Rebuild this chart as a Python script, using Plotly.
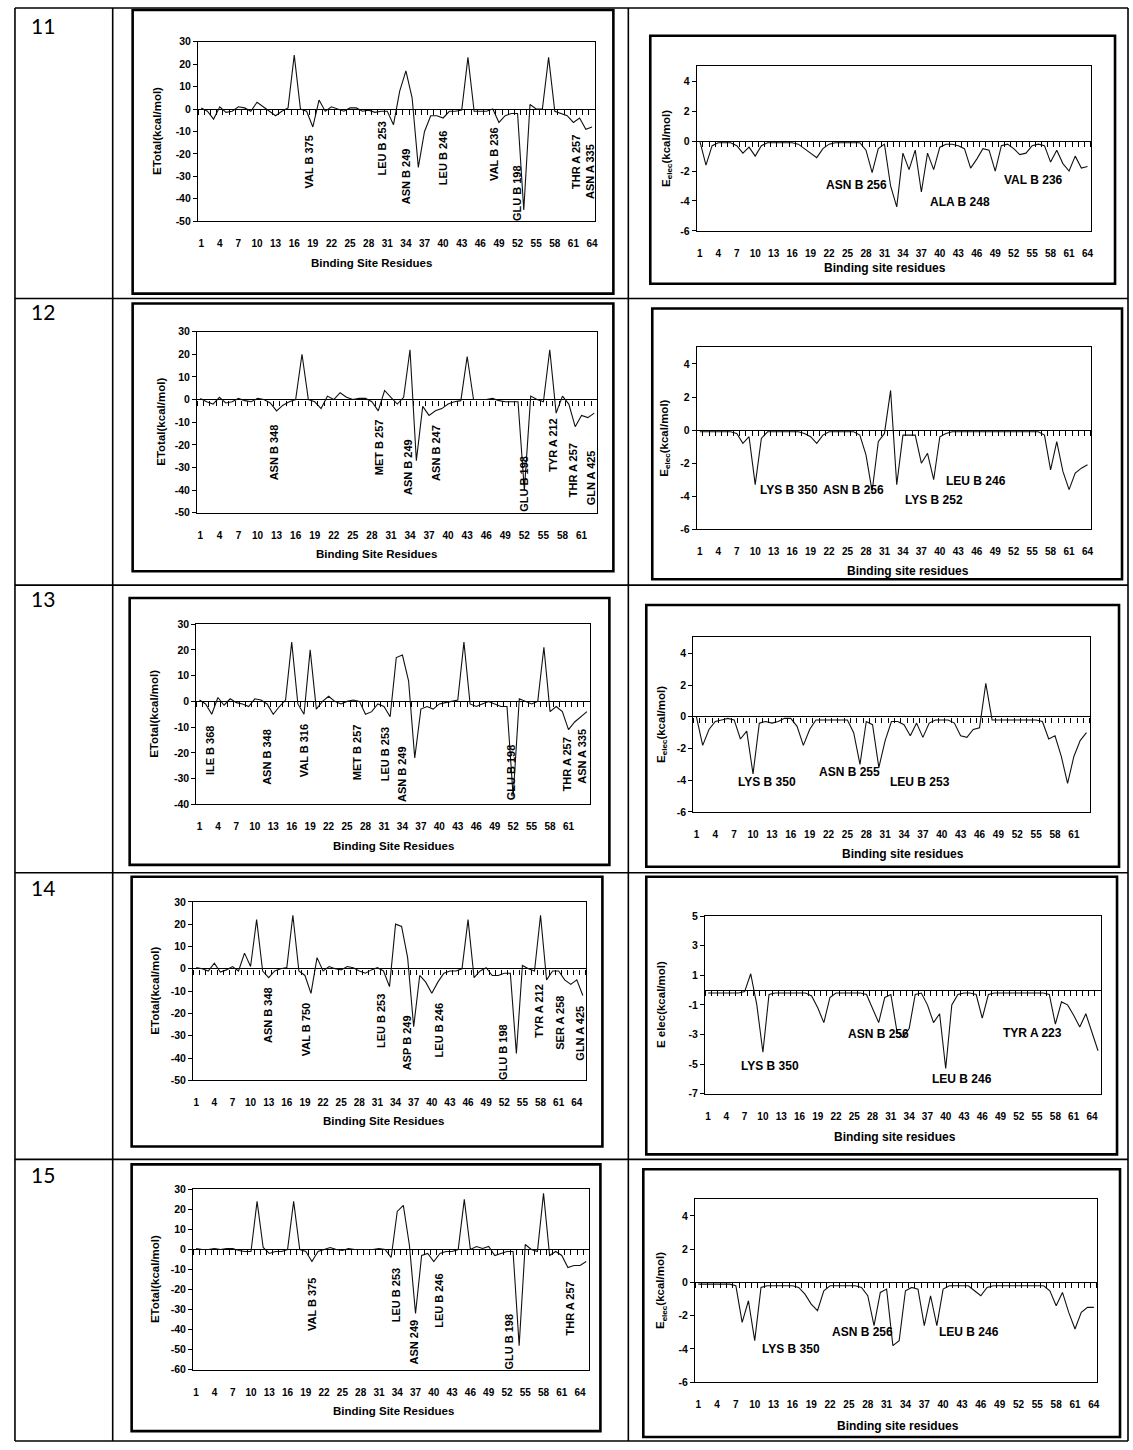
import plotly.graph_objects as go

W, H = 1133, 1450

# ---------------- data ----------------
ROW_NUMBERS = ["11", "12", "13", "14", "15"]

ETOT_11 = [0.5, -1, -4.5, 1, -1.5, -1, 1, 0.5, -1, 3,
           1, -1, -3, -1, 0.5, 24, 0, -1, -8, 4,
           -1, 1, 0, -1, 0.5, 0.5, -1, -0.5, -1.5, -1,
           -1, -7, 8, 17, 5, -26, -10, -3, -3, -4,
           -1, -1, -0.5, 23, -1, -1, -1, 0, -6, -3,
           -2, -2, -45, 2, 0, 0, 23, -1, -2, -3,
           -6, -4, -9, -8]
EELEC_11 = [0, -1.6, -0.3, -0.1, -0.1, -0.1, -0.3, -0.8, -0.4, -1.0,
            -0.3, -0.1, -0.1, -0.1, -0.1, -0.1, -0.2, -0.5, -0.8, -1.1,
            -0.5, -0.2, -0.1, -0.1, -0.1, -0.1, -0.1, -0.6, -2.1, -0.5,
            -0.2, -3.0, -4.4, -0.8, -1.9, -0.6, -3.4, -0.8, -1.9, -0.4,
            -0.2, -0.2, -0.3, -0.5, -1.8, -1.2, -0.5, -0.6, -2.0, -0.3,
            -0.2, -0.5, -0.9, -0.8, -0.3, -0.2, -0.3, -1.4, -0.6, -1.5,
            -2.0, -1.0, -1.8, -1.7]

ETOT_12 = [0.5, -1, -2, 1, -1.5, -1, 0.5, -0.5, -1, 0.5,
           0, -1.5, -5, -2.5, -1, 0, 20, 0, -1, -4,
           1.5, 0, 3, 1, 0, 0.5, 0.5, -1, -5, 4,
           1, -2, 1, 22, -27, -3, -7, -5, -4, -2,
           -1, -0.5, 19, 0, 0, 0, 0.5, -0.5, -1, -1,
           -1, -40, 1.5, 0, -1, 22, -6, 1.5, -2, -12,
           -7, -8, -6]
EELEC_12 = [-0.1, -0.1, -0.1, -0.1, -0.1, -0.1, -0.2, -0.8, -0.4, -3.3,
            -0.5, -0.1, -0.1, -0.1, -0.1, -0.1, -0.1, -0.2, -0.4, -0.8,
            -0.3, -0.1, -0.1, -0.1, -0.1, -0.1, -0.3, -1.5, -3.7, -0.7,
            -0.2, 2.4, -3.3, -0.3, -0.3, -0.3, -2.0, -1.4, -3.0, -0.4,
            -0.2, -0.1, -0.1, -0.1, -0.1, -0.1, -0.1, -0.1, -0.1, -0.1,
            -0.1, -0.1, -0.1, -0.1, -0.1, -0.1, -0.3, -2.4, -0.7, -2.5,
            -3.6, -2.6, -2.3, -2.1]

ETOT_13 = [0.5, -1, -5, 1.5, -1.5, 1, -0.5, -1, -2, 1,
           0.5, -1, -5, -2, 0.5, 23, -1, -5, 20, -3,
           0, 2, 0, -1, 0, 0.5, 0, -5, -4, -1,
           -2, -6, 17, 18, 8, -22, -3, -2, -3, -1,
           -0.5, 0, 0.5, 23, -1, -2, -1, 0, -1, -2,
           -2, -37, 1, 0, -1, 0, 21, -4, -2, -4,
           -11, -8, -6, -4]
EELEC_13 = [0, -1.8, -0.8, -0.3, -0.2, -0.1, -0.2, -1.4, -0.9, -3.6,
            -0.4, -0.3, -0.4, -0.3, -0.1, -0.1, -0.6, -1.8, -0.8, -0.2,
            -0.2, -0.2, -0.2, -0.2, -0.2, -1.0, -3.0, -0.3, -0.5, -3.2,
            -1.5, -0.3, -0.3, -0.5, -1.2, -0.4, -1.3, -0.4, -0.2, -0.2,
            -0.2, -0.4, -1.2, -1.3, -0.8, -0.7, 2.1, -0.2, -0.2, -0.2,
            -0.2, -0.2, -0.2, -0.2, -0.2, -0.3, -1.4, -1.2, -2.5, -4.2,
            -2.5, -1.5, -1.0]

ETOT_14 = [0.5, 0, -1, 2.5, -1.5, -0.5, 1, -1, 7, 1,
           22, -1, -4, -1, 0, 0.5, 24, -1, -3, -11,
           5, -1, 1, 0, -0.5, 1, 0.5, -1, -2, -0.5,
           0.5, -1, -8, 20, 19, 5, -26, -3, -6, -11,
           -6, -2, -1, -1, 0, 22, -4, -1, 0.5, -3,
           -3, -2, -2, -38, 1.5, 0, -1, 24, -5, -1,
           -1, -5, -7, -5, -12]
EELEC_14 = [-0.2, -0.2, -0.2, -0.2, -0.2, -0.2, -0.1, 1.1, -1.0, -4.2,
            -0.3, -0.2, -0.2, -0.2, -0.2, -0.2, -0.2, -0.4, -1.2, -2.2,
            -0.5, -0.2, -0.2, -0.2, -0.2, -0.2, -0.3, -1.2, -2.2, -0.5,
            -0.3, -2.8, -3.2, -2.6, -0.3, -0.2, -1.0, -2.2, -1.6, -5.3,
            -1.0, -0.3, -0.2, -0.2, -0.3, -1.9, -0.3, -0.2, -0.2, -0.2,
            -0.2, -0.2, -0.2, -0.2, -0.2, -0.2, -0.3, -2.3, -0.8, -1.0,
            -1.7, -2.5, -1.6, -2.8, -4.1]

ETOT_15 = [0.5, 0, 0, 0.5, 0, 0.5, 0.5, -0.5, -1, -1,
           24, 1, -2, -1, -1, 0, 24, 0, -1, -6,
           -1, 0, 1, 0, -0.5, 0.5, 0, 0, 0, 0,
           0.5, 0, -4, 19, 22, 2, -32, -3, -2, -6,
           -2, -1, -1, 0, 25, 0, 1.5, 0.5, 1.5, -3,
           -2, -1, -1, -48, 2.5, 0, -1, 28, -3, -1,
           -3, -9, -8, -8, -6]
EELEC_15 = [-0.1, -0.1, -0.1, -0.1, -0.1, -0.1, -0.2, -2.4, -1.1, -3.5,
            -0.3, -0.2, -0.2, -0.2, -0.2, -0.2, -0.3, -0.7, -1.3, -1.7,
            -0.5, -0.2, -0.2, -0.2, -0.2, -0.2, -0.3, -0.8, -2.6, -0.6,
            -0.4, -3.8, -3.5, -0.5, -0.3, -0.4, -2.6, -0.8, -2.6, -0.4,
            -0.2, -0.2, -0.2, -0.2, -0.5, -0.8, -0.3, -0.2, -0.2, -0.2,
            -0.2, -0.2, -0.2, -0.2, -0.2, -0.2, -0.5, -1.4, -0.6, -1.8,
            -2.8, -1.8, -1.5, -1.5]

# residue annotations: (text, residue position, energy position)
LAB_11L = [("VAL B 375", 18.4, -23.8), ("LEU B 253", 30.0, -17.6), ("ASN B 249", 34.0, -30),
           ("LEU B 246", 40.1, -22), ("VAL B 236", 48.2, -20), ("GLU B 198", 51.9, -37.5),
           ("THR A 257", 61.5, -23.8), ("ASN A 335", 63.7, -28)]
LAB_11R = [("ASN B 256", 26.5, -2.9), ("ALA B 248", 43.2, -4.1), ("VAL B 236", 55.2, -2.6)]
LAB_12L = [("ASN B 348", 12.6, -23.3), ("MET B 257", 29.1, -21.1), ("ASN B 249", 33.8, -29.9),
           ("ASN B 247", 38.2, -23.7), ("GLU B 198", 51.9, -37.3), ("TYR A 212", 56.6, -20.2),
           ("THR A 257", 59.7, -31.1), ("GLN A 425", 62.4, -34.6)]
LAB_12R = [("LYS B 350", 15.5, -3.6), ("ASN B 256", 26.0, -3.6), ("LYS B 252", 39.1, -4.2),
           ("LEU B 246", 45.8, -3.1)]
LAB_13L = [("ILE B 368", 2.6, -18.8), ("ASN B 348", 12.0, -21.5), ("VAL B 316", 18.0, -19.4),
           ("MET B 257", 26.6, -19.8), ("LEU B 253", 31.3, -20.6), ("ASN B 249", 33.9, -28.3),
           ("GLU B 198", 51.6, -27.7), ("THR A 257", 60.7, -24.6), ("ASN A 335", 63.2, -21.5)]
LAB_13R = [("LYS B 350", 12.2, -4.1), ("ASN B 255", 25.4, -3.5), ("LEU B 253", 36.6, -4.1)]
LAB_14L = [("ASN B 348", 12.8, -20.5), ("VAL B 750", 19.3, -27.2), ("LEU B 253", 31.7, -23.6),
           ("ASP B 249", 35.9, -33.4), ("LEU B 246", 41.2, -27.6), ("GLU B 198", 51.9, -37.4),
           ("TYR A 212", 57.8, -18.7), ("SER A 258", 61.3, -24), ("GLN A 425", 64.6, -28.9)]
LAB_14R = [("LYS B 350", 11.2, -5.1), ("ASN B 256", 28.9, -3.0), ("LEU B 246", 42.7, -6.0),
           ("TYR A 223", 54.2, -2.9)]
LAB_15L = [("VAL B 375", 20.0, -27.3), ("LEU B 253", 33.8, -22.8), ("ASN 249", 36.7, -46.1),
           ("LEU B 246", 40.8, -25.8), ("GLU B 198", 52.3, -46.1), ("THR A 257", 62.4, -29.3)]
LAB_15R = [("LYS B 350", 15.7, -4.0), ("ASN B 256", 27.1, -3.0), ("LEU B 246", 44.2, -3.0)]

YT_TOTAL_11 = [30, 20, 10, 0, -10, -20, -30, -40, -50]
YT_TOTAL_13 = [30, 20, 10, 0, -10, -20, -30, -40]
YT_TOTAL_15 = [30, 20, 10, 0, -10, -20, -30, -40, -50, -60]
YT_ELEC = [4, 2, 0, -2, -4, -6]
YT_ELEC_14 = [5, 3, 1, -1, -3, -5, -7]

XTITLE_L = "Binding Site Residues"
XTITLE_R = "Binding site residues"
YTITLE_L = "ETotal(kcal/mol)"
YTITLE_R = "E<sub>elec</sub>(kcal/mol)"
YTITLE_R14 = "E elec(kcal/mol)"

# ---------------- layout geometry (pixels) ----------------
PANELS = [
    dict(y=ETOT_11, lab=LAB_11L, side="L", plot=(198.6, 596.7, 36, 217), yr=[-50, 30], yt=YT_TOTAL_11,
         last=64, box=(133, 615, 4, 290), ytx=158, xt=(372, 259), ytitle=YTITLE_L),
    dict(y=EELEC_11, lab=LAB_11R, side="R", plot=(698.6, 1093.5, 61, 226.7), yr=[-6, 5], yt=YT_ELEC,
         last=64, box=(652, 1118, 30, 280), ytx=668, xt=(887, 264), ytitle=YTITLE_R),
    dict(y=ETOT_12, lab=LAB_12L, side="L", plot=(197.7, 599, 328.3, 511), yr=[-50, 30], yt=YT_TOTAL_11,
         last=61, box=(133, 615, 300, 570), ytx=162, xt=(378, 553), ytitle=YTITLE_L),
    dict(y=EELEC_12, lab=LAB_12R, side="R", plot=(698.6, 1093.5, 344.3, 527.7), yr=[-6, 5], yt=YT_ELEC,
         last=64, box=(654, 1125, 305, 578), ytx=667, xt=(910, 570), ytitle=YTITLE_R),
    dict(y=ETOT_13, lab=LAB_13L, side="L", plot=(196.9, 591.6, 623.3, 805), yr=[-40, 30], yt=YT_TOTAL_13,
         last=61, box=(130, 611, 597, 866), ytx=155, xt=(395, 847), ytitle=YTITLE_L),
    dict(y=EELEC_13, lab=LAB_13R, side="R", plot=(695.1, 1092.5, 636.7, 812.7), yr=[-6, 5], yt=YT_ELEC,
         last=61, box=(648, 1122, 604, 868), ytx=663, xt=(905, 855), ytitle=YTITLE_R),
    dict(y=ETOT_14, lab=LAB_14L, side="L", plot=(193.7, 587.4, 903.3, 1083.3), yr=[-50, 30], yt=YT_TOTAL_11,
         last=64, box=(132, 604, 878, 1150), ytx=155, xt=(385, 1124), ytitle=YTITLE_L),
    dict(y=EELEC_14, lab=LAB_14R, side="R", plot=(706.9, 1104, 917.7, 1096.7), yr=[-7, 5], yt=YT_ELEC_14,
         last=64, box=(648, 1120, 878, 1158), ytx=663, xt=(897, 1140), ytitle=YTITLE_R14),
    dict(y=ETOT_15, lab=LAB_15L, side="L", plot=(193.6, 590.8, 1193.3, 1375), yr=[-60, 30], yt=YT_TOTAL_15,
         last=64, box=(132, 602, 1168, 1437), ytx=155, xt=(395, 1417), ytitle=YTITLE_L),
    dict(y=EELEC_15, lab=LAB_15R, side="R", plot=(696.9, 1099.9, 1203.3, 1387.7), yr=[-6, 5], yt=YT_ELEC,
         last=64, box=(645, 1123, 1173, 1443), ytx=663, xt=(900, 1432), ytitle=YTITLE_R),
]

ROW_Y = [20, 308, 597, 889, 1178]
ROW_X = 43
TABLE_V = [15, 113, 630, 1131]
TABLE_H = [2, 295, 584, 874, 1163, 1447]

FONT = "Liberation Sans, Arial, sans-serif"


def px(x):
    return x / W


def py(y):
    return 1 - y / H


def ax_id(k, letter):
    return letter if k == 1 else f"{letter}{k}"


fig = go.Figure()
layout = dict(width=W, height=H, margin=dict(l=0, r=0, t=0, b=0),
              paper_bgcolor="white", plot_bgcolor="white", showlegend=False,
              font=dict(family=FONT, color="black"))
shapes = []
annotations = []

for i, p in enumerate(PANELS):
    k = i + 1
    ko = i + 11
    n = len(p["y"])
    xs = list(range(1, n + 1))
    l, r, t, b = p["plot"]
    xr = [0.5, n + 0.5]
    y0, y1 = p["yr"]
    yd = [py(b), py(t)]
    xid, yid, xoid = ax_id(k, "x"), ax_id(k, "y"), ax_id(ko, "x")

    fig.add_trace(go.Scatter(x=xs, y=p["y"], xaxis=xid, yaxis=yid, mode="lines",
                             line=dict(color="#111111", width=1.1), hoverinfo="skip"))
    # invisible copy so that the zero-line tick axis is rendered
    fig.add_trace(go.Scatter(x=xs, y=p["y"], xaxis=xoid, yaxis=yid, mode="lines",
                             line=dict(color="rgba(0,0,0,0)", width=0), hoverinfo="skip"))

    tickvals = list(range(1, p["last"] + 1, 3))
    layout["xaxis" if k == 1 else f"xaxis{k}"] = dict(
        domain=[px(l), px(r)], range=xr, anchor=yid, tickmode="array", tickvals=tickvals,
        ticktext=[str(v) for v in tickvals], ticks="", showline=True, mirror=True,
        linecolor="black", linewidth=1.3, showgrid=False, zeroline=False,
        ticklabelstandoff=13,
        tickfont=dict(family=FONT, size=10, color="black", weight="bold"))
    zero_pos = yd[0] + (0 - y0) / (y1 - y0) * (yd[1] - yd[0])
    layout[f"xaxis{ko}"] = dict(
        overlaying=xid, anchor="free", position=zero_pos, range=xr, tickmode="linear",
        tick0=0.5, dtick=1, ticks="outside", ticklen=5, tickwidth=1, tickcolor="black",
        showticklabels=False, showline=False, showgrid=False, zeroline=False)
    layout["yaxis" if k == 1 else f"yaxis{k}"] = dict(
        domain=yd, range=p["yr"], anchor=xid, tickmode="array", tickvals=p["yt"],
        ticktext=[str(v) for v in p["yt"]], ticks="outside", ticklen=4, tickcolor="black",
        showline=True, mirror=True, linecolor="black", linewidth=1.3, showgrid=False,
        zeroline=True, zerolinecolor="black", zerolinewidth=1,
        tickfont=dict(family=FONT, size=10.5, color="black", weight="bold"))

    # chart-area frame
    bl, br, bt, bb = p["box"]
    shapes.append(dict(type="rect", xref="paper", yref="paper", x0=px(bl), x1=px(br),
                       y0=py(bb), y1=py(bt), line=dict(color="black", width=2.6)))

    # axis titles
    fs = 11.5 if p["side"] == "L" else 12
    annotations.append(dict(text=XTITLE_L if p["side"] == "L" else XTITLE_R, xref="paper", yref="paper",
                            x=px(p["xt"][0]), y=py(p["xt"][1]), xanchor="center", yanchor="middle",
                            showarrow=False,
                            font=dict(family=FONT, size=fs, color="black", weight="bold")))
    annotations.append(dict(text=p["ytitle"], xref="paper", yref="paper", x=px(p["ytx"]),
                            y=(yd[0] + yd[1]) / 2, xanchor="center", yanchor="middle",
                            textangle=-90, showarrow=False,
                            font=dict(family=FONT, size=11.5, color="black", weight="bold")))

    # residue labels
    for txt, xv, yv in p["lab"]:
        if p["side"] == "L":
            annotations.append(dict(text=txt, xref=xid, yref=yid, x=xv, y=yv, textangle=-90,
                                    xanchor="center", yanchor="middle", showarrow=False,
                                    font=dict(family=FONT, size=11, color="black", weight="bold")))
        else:
            annotations.append(dict(text=txt, xref=xid, yref=yid, x=xv, y=yv,
                                    xanchor="center", yanchor="middle", showarrow=False,
                                    font=dict(family=FONT, size=12, color="black", weight="bold")))

# table grid
for xv in TABLE_V:
    shapes.append(dict(type="line", xref="paper", yref="paper", x0=px(xv), x1=px(xv),
                       y0=py(TABLE_H[-1]), y1=py(TABLE_H[0]), line=dict(color="black", width=1.6)))
for yv in TABLE_H:
    shapes.append(dict(type="line", xref="paper", yref="paper", x0=px(TABLE_V[0]), x1=px(TABLE_V[-1]),
                       y0=py(yv), y1=py(yv), line=dict(color="black", width=1.6)))

for txt, yv in zip(ROW_NUMBERS, ROW_Y):
    annotations.append(dict(text=txt, xref="paper", yref="paper", x=px(ROW_X), y=py(yv),
                            xanchor="center", yanchor="middle", showarrow=False,
                            font=dict(family="Lato, Open Sans, sans-serif", size=21, color="black")))

layout["shapes"] = shapes
layout["annotations"] = annotations
fig.update_layout(**layout)
fig.write_html("out.html", config={"displayModeBar": False},
               post_script="document.body.style.margin='0';")
